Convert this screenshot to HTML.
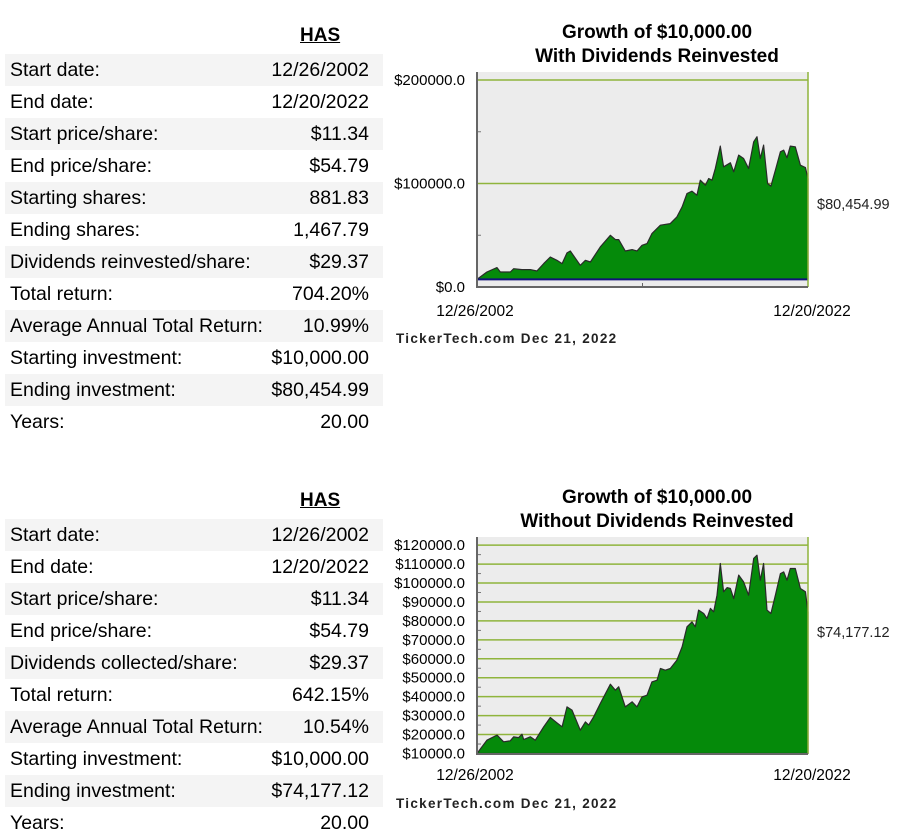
<!DOCTYPE html>
<html><head><meta charset="utf-8">
<style>
body{margin:0;width:916px;height:840px;background:#fff;font-family:"Liberation Sans",Arial,sans-serif;position:relative;overflow:hidden;color:#000}
.tbl{position:absolute;left:5px;width:378px}
.row{height:32px;display:flex;justify-content:space-between;align-items:center;font-size:19.5px;padding:0 14px 0 5px;box-sizing:border-box}
.row.g{background:#f4f4f4}
.hdr{position:absolute;font-weight:bold;font-size:19px;text-decoration:underline;}
.title{position:absolute;left:480px;width:354px;text-align:center;font-weight:bold;font-size:19px;line-height:24px}
svg{position:absolute;left:0;top:0}
</style></head><body>
<div class="hdr" style="left:300px;top:25px">HAS</div>
<div class="tbl" style="top:54px">
<div class="row g"><span>Start date:</span><span>12/26/2002</span></div>
<div class="row"><span>End date:</span><span>12/20/2022</span></div>
<div class="row g"><span>Start price/share:</span><span>$11.34</span></div>
<div class="row"><span>End price/share:</span><span>$54.79</span></div>
<div class="row g"><span>Starting shares:</span><span>881.83</span></div>
<div class="row"><span>Ending shares:</span><span>1,467.79</span></div>
<div class="row g"><span>Dividends reinvested/share:</span><span>$29.37</span></div>
<div class="row"><span>Total return:</span><span>704.20%</span></div>
<div class="row g"><span>Average Annual Total Return:</span><span>10.99%</span></div>
<div class="row"><span>Starting investment:</span><span>$10,000.00</span></div>
<div class="row g"><span>Ending investment:</span><span>$80,454.99</span></div>
<div class="row"><span>Years:</span><span>20.00</span></div>
</div>
<div class="hdr" style="left:300px;top:490px">HAS</div>
<div class="tbl" style="top:519px">
<div class="row g"><span>Start date:</span><span>12/26/2002</span></div>
<div class="row"><span>End date:</span><span>12/20/2022</span></div>
<div class="row g"><span>Start price/share:</span><span>$11.34</span></div>
<div class="row"><span>End price/share:</span><span>$54.79</span></div>
<div class="row g"><span>Dividends collected/share:</span><span>$29.37</span></div>
<div class="row"><span>Total return:</span><span>642.15%</span></div>
<div class="row g"><span>Average Annual Total Return:</span><span>10.54%</span></div>
<div class="row"><span>Starting investment:</span><span>$10,000.00</span></div>
<div class="row g"><span>Ending investment:</span><span>$74,177.12</span></div>
<div class="row"><span>Years:</span><span>20.00</span></div>
</div>
<div class="title" style="top:21px">Growth of $10,000.00<br>With Dividends Reinvested</div>
<div class="title" style="top:486px">Growth of $10,000.00<br>Without Dividends Reinvested</div>
<svg id="svg" width="916" height="840"></svg>
<script>
const years1=[0,0.60,1.21,1.41,2.01,2.22,2.72,3.22,3.62,4.03,4.43,4.83,5.14,5.44,5.64,6.24,6.55,6.85,7.45,8.06,8.36,8.56,8.96,9.37,9.67,9.97,10.27,10.57,11.08,11.68,12.08,12.39,12.69,12.99,13.29,13.49,13.80,14.00,14.20,14.40,14.70,14.90,15.31,15.51,15.81,16.11,16.41,16.72,16.92,17.12,17.32,17.56,17.76,18.03,18.33,18.53,18.73,18.93,19.23,19.54,19.84,20];
const values1=[7400,14500,18700,14500,14500,17700,16800,16800,15500,22600,29000,25800,22600,32900,34800,21000,25800,24200,38700,50000,45800,45800,34800,36100,34800,40300,41900,51600,59700,61300,67700,77400,90300,92600,88700,103200,98400,104800,103200,114500,136100,116100,120000,111300,127400,124200,114500,140300,145200,124200,137100,100000,97400,112900,130600,132300,124800,136100,135500,117700,115500,104800];
const ticks1=[0,100000,200000];
const tickLabels1=["$0.0","$100000.0","$200000.0"];
const years2=[0,0.60,1.21,1.61,2.01,2.22,2.52,2.72,2.82,3.22,3.52,4.03,4.43,4.83,5.14,5.44,5.74,6.24,6.55,6.75,7.05,7.45,8.06,8.36,8.56,8.96,9.37,9.67,9.97,10.27,10.57,10.88,11.08,11.38,11.68,12.08,12.39,12.69,12.99,13.19,13.39,13.70,13.90,14.10,14.30,14.50,14.70,14.90,15.11,15.31,15.51,15.81,16.11,16.41,16.72,16.92,17.12,17.32,17.52,17.76,18.03,18.33,18.53,18.73,18.93,19.23,19.54,19.84,20];
const values2=[10000,17000,19700,16200,16700,18800,18400,20200,17400,18800,17000,24100,29000,26200,24100,34600,32900,22300,26700,25000,29400,36400,46600,43400,45200,34600,37300,34600,39900,40800,47800,48700,54900,54000,54900,59300,66300,76900,79500,76900,85700,83900,81300,86600,84800,93600,110300,95400,97600,97100,91800,104200,100600,93600,113000,114700,101500,110300,85700,83900,93600,105000,105900,101500,107700,107700,97100,95400,84800];
const ticks2=[10000,20000,30000,40000,50000,60000,70000,80000,90000,100000,110000,120000];
const tickLabels2=["$10000.0","$20000.0","$30000.0","$40000.0","$50000.0","$60000.0","$70000.0","$80000.0","$90000.0","$100000.0","$110000.0","$120000.0"];
const NS="http://www.w3.org/2000/svg";
const svg=document.getElementById('svg');
function mk(tag,attrs,parent){const e=document.createElementNS(NS,tag);for(const k in attrs)e.setAttribute(k,attrs[k]);(parent||svg).appendChild(e);return e;}
function chart(o){
  const x=t=>o.x0+(t/20)*(o.x1-o.x0);
  const y=v=>o.yBase-(v-o.vBase)*o.ppv;
  const g=mk('g',{});
  
  
  const bg=mk('rect',{x:o.x0,y:o.top,width:o.x1-o.x0,height:o.bottom-o.top,fill:'#ececec'},g);
  
  
  o.ticks.forEach((v,i)=>{
    if(v>o.vBase){const l=mk('line',{x1:o.x0,x2:o.x1,y1:y(v),y2:y(v),stroke:'#8fb43c','stroke-width':1.5},g);
    
    }
    const t=mk('text',{x:o.x0-12,y:y(v)+5,'text-anchor':'end','font-size':o.fs,fill:'#000'},g);
    t.textContent=o.labels[i];
    
    
  });
  o.minor.forEach(v=>{mk('line',{x1:o.x0,x2:o.x0+4,y1:y(v),y2:y(v),stroke:'#777'},g);});
  let d='M'+x(o.years[0])+','+y(o.fillBase);
  o.years.forEach((t,i)=>{d+=' L'+x(t).toFixed(1)+','+y(o.values[i]).toFixed(1);});
  d+=' L'+x(20)+','+y(o.fillBase)+' Z';
  const a=mk('path',{d:d,fill:'#058a0a',stroke:'#2a2a2a','stroke-width':1.2,'stroke-linejoin':'round'},g);
  
  
  if(o.blue!==undefined){const b=mk('line',{x1:o.x0,x2:o.x1,y1:y(o.blue),y2:y(o.blue),stroke:'#12127a','stroke-width':2},g);
    
    }
  mk('line',{x1:o.x1,x2:o.x1,y1:o.top,y2:o.bottom,stroke:'#8fb43c','stroke-width':1.5},g);
  mk('line',{x1:o.x0,x2:o.x0,y1:o.top,y2:o.bottom+1,stroke:'#666','stroke-width':2},g);
  mk('line',{x1:o.x0,x2:o.x1,y1:o.bottom,y2:o.bottom,stroke:'#666','stroke-width':2},g);
  if(o.midTick) mk('line',{x1:(o.x0+o.x1)/2,x2:(o.x0+o.x1)/2,y1:o.bottom-4,y2:o.bottom,stroke:'#666'},g);
  [[o.x0-2,'12/26/2002','x-start-label'],[o.x1+4,'12/20/2022','x-end-label']].forEach(p=>{
    const t=mk('text',{x:p[0],y:o.xlabY,'text-anchor':'middle','font-size':15.5},g);t.textContent=p[1];
    
    });
  const e=mk('text',{x:o.x1+9,y:o.endY,'font-size':14.5,fill:'#222'},g);e.textContent=o.endLabel;
  
  
  const c=mk('text',{x:396,y:o.credY,'font-size':13.5,'font-weight':'bold','letter-spacing':'1.3',fill:'#222'},g);c.textContent='TickerTech.com  Dec 21, 2022';
  
  
}
chart({name:'chart-with-dividends',x0:477,x1:808,top:72,bottom:287,yBase:287,vBase:0,ppv:103.5/100000,ticks:ticks1,labels:tickLabels1,minor:[50000,150000],years:years1,values:values1,fillBase:7400,blue:7400,fs:15,xlabY:316,endLabel:'$80,454.99',endY:209,credY:343,midTick:true});
chart({name:'chart-without-dividends',x0:477,x1:808,top:537,bottom:754,yBase:753.5,vBase:10000,ppv:18.94/10000,ticks:ticks2,labels:tickLabels2,minor:[15000,25000,35000,45000,55000,65000,75000,85000,95000,105000,115000],years:years2,values:values2,fillBase:10000,fs:15,xlabY:780,endLabel:'$74,177.12',endY:637,credY:808,midTick:false});
</script>
</body></html>
